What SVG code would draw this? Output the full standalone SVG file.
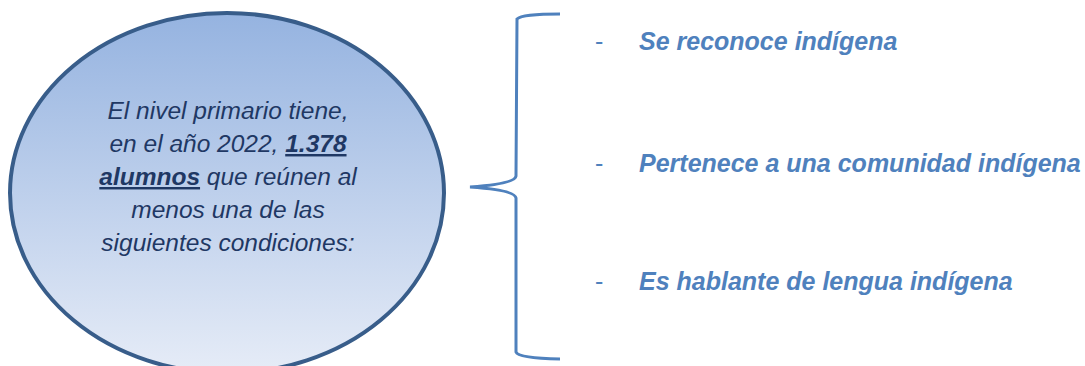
<svg xmlns="http://www.w3.org/2000/svg" width="1085" height="366" viewBox="0 0 1085 366">
<defs>
<linearGradient id="g" x1="0" y1="0" x2="0" y2="1">
<stop offset="0" stop-color="#95B3E0"/>
<stop offset="1" stop-color="#E6ECF7"/>
</linearGradient>
<style>
.c{font-family:"Liberation Sans",Arial,sans-serif;font-style:italic;font-size:24.5px;fill:#1F3864;text-anchor:middle}
.b{font-weight:bold;text-decoration:underline}
.i{font-family:"Liberation Sans",Arial,sans-serif;font-style:italic;font-weight:bold;font-size:25px;fill:#4F81BD}
.d{font-family:"Liberation Sans",Arial,sans-serif;font-size:25px;fill:#4F81BD}
</style>
</defs>
<g id="ellipse">
<ellipse cx="227" cy="193" rx="217" ry="180" fill="url(#g)" stroke="#385D8A" stroke-width="4"/>
<text class="c" x="228" y="119">El nivel primario tiene,</text>
<text class="c" x="228" y="152">en el año 2022, <tspan class="b">1.378</tspan></text>
<text class="c" x="228" y="185"><tspan class="b">alumnos</tspan> que reúnen al</text>
<text class="c" x="228" y="218">menos una de las</text>
<text class="c" x="228" y="251">siguientes condiciones:</text>
</g>
<g id="connectors">
<path d="M560 14 Q522 14 517 19 L516 176 Q515 184 470 187 Q515 190 516 198 L516 352 Q518 358 560 359" fill="none" stroke="#4F81BD" stroke-width="3"/>
</g>
<g id="item1">
<text class="d" x="595" y="50">-</text>
<text class="i" x="639" y="50">Se reconoce indígena</text>
</g>
<g id="item2">
<text class="d" x="595" y="172">-</text>
<text class="i" x="639" y="172">Pertenece a una comunidad indígena</text>
</g>
<g id="item3">
<text class="d" x="595" y="290">-</text>
<text class="i" x="639" y="290">Es hablante de lengua indígena</text>
</g>
</svg>
